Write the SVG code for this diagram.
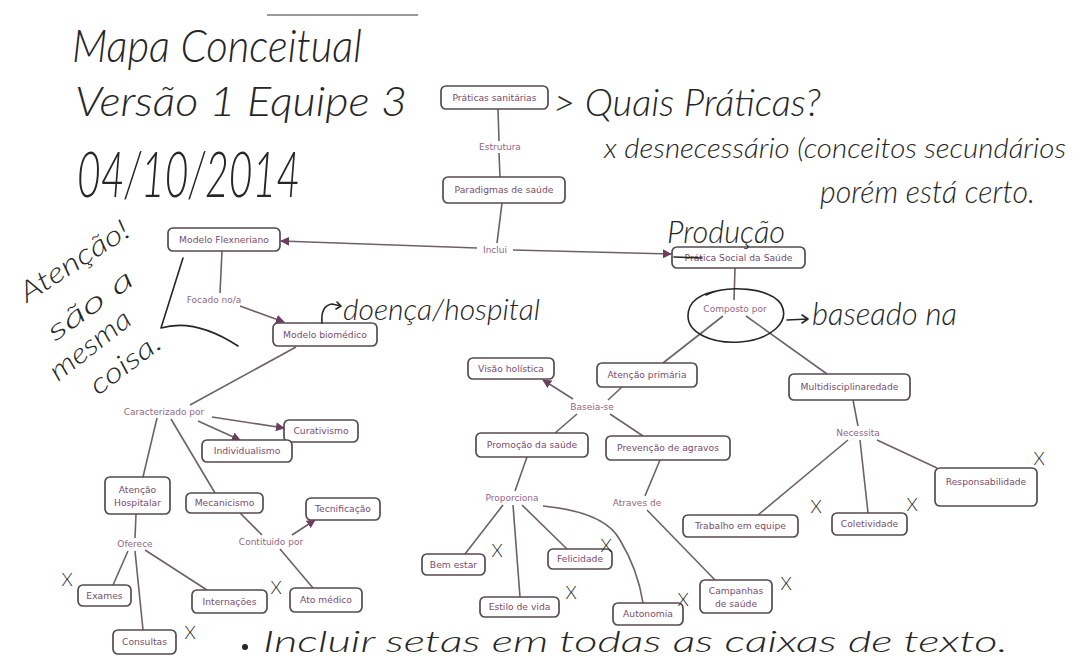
<svg xmlns="http://www.w3.org/2000/svg" width="1091" height="666" viewBox="0 0 1091 666">
<defs>
<style>
.box{fill:#fff;stroke:#564a52;stroke-width:1.7}
.nt{font-family:"DejaVu Sans",Verdana,sans-serif;font-size:9.2px;fill:#7a4c6c;text-anchor:middle}
.lt{font-family:"DejaVu Sans",Verdana,sans-serif;font-size:9px;fill:#946683;text-anchor:middle}
.c{fill:none;stroke:#6f6068;stroke-width:1.6}
.hw{font-family:Lato,"Open Sans",sans-serif;font-weight:300;font-style:italic;fill:#262626}
.hx{font-family:Lato,"Open Sans",sans-serif;font-weight:300;fill:#262626;font-size:18px;text-anchor:middle}
.hs{fill:none;stroke:#262626;stroke-width:1.6;stroke-linecap:round;stroke-linejoin:round}
</style>
<marker id="ah" viewBox="0 0 10 10" refX="9" refY="5" markerWidth="9" markerHeight="9" markerUnits="userSpaceOnUse" orient="auto">
<path d="M0,0 L10,5 L0,10 z" fill="#6b3d5f"/>
</marker>
</defs>
<rect width="1091" height="666" fill="#fff"/>
<line x1="267" y1="15" x2="418" y2="15" stroke="#9a9a9a" stroke-width="2"/>

<g id="connectors">
<path class="c" d="M498,109 L499,141"/>
<path class="c" d="M499,153 L500,177"/>
<path class="c" d="M502,203 L497,243"/>
<path class="c" d="M477,248 L281,241" marker-end="url(#ah)"/>
<path class="c" d="M513,250 L671,254" marker-end="url(#ah)"/>
<path class="c" d="M222,251 L220,293"/>
<path class="c" d="M240,306 L284,322" marker-end="url(#ah)"/>
<path class="c" d="M296,347 L190,405"/>
<path class="c" d="M212,417 L284,428" marker-end="url(#ah)"/>
<path class="c" d="M198,421 L240,440" marker-end="url(#ah)"/>
<path class="c" d="M157,418 L143,477"/>
<path class="c" d="M171,419 L215,493"/>
<path class="c" d="M136,514 L135,538"/>
<path class="c" d="M128,551 L113,585"/>
<path class="c" d="M135,551 L143,630"/>
<path class="c" d="M145,550 L207,590"/>
<path class="c" d="M240,513 L262,535"/>
<path class="c" d="M292,535 L315,520" marker-end="url(#ah)"/>
<path class="c" d="M280,549 L313,588"/>
<path class="c" d="M735,268 L734,300"/>
<path class="c" d="M723,316 L663,363"/>
<path class="c" d="M746,316 L827,374"/>
<path class="c" d="M622,387 L608,400"/>
<path class="c" d="M573,399 L543,380" marker-end="url(#ah)"/>
<path class="c" d="M577,414 L555,433"/>
<path class="c" d="M610,414 L643,436"/>
<path class="c" d="M527,457 L515,491"/>
<path class="c" d="M660,460 L645,496"/>
<path class="c" d="M647,510 L715,580"/>
<path class="c" d="M503,505 L465,554"/>
<path class="c" d="M513,505 L520,597"/>
<path class="c" d="M522,505 L567,549"/>
<path class="c" d="M543,506 Q605,512 620,540 Q638,570 643,603"/>
<path class="c" d="M853,400 L858,426"/>
<path class="c" d="M848,440 L758,515"/>
<path class="c" d="M860,440 L868,513"/>
<path class="c" d="M877,440 L937,468"/>
</g>

<g id="n-praticas"><rect class="box" x="441" y="86" width="107" height="23" rx="5"/><text class="nt" x="494.5" y="100.8">Práticas sanitárias</text></g>
<g id="l-estrutura"><text class="lt" x="500" y="150.3">Estrutura</text></g>
<g id="n-paradigmas"><rect class="box" x="443" y="177" width="122" height="26" rx="5"/><text class="nt" x="504" y="193.3">Paradigmas de saúde</text></g>
<g id="l-inclui"><text class="lt" x="495" y="253.3">Inclui</text></g>
<g id="n-flexneriano"><rect class="box" x="168" y="228" width="112" height="23" rx="5"/><text class="nt" x="224" y="242.8">Modelo Flexneriano</text></g>
<g id="n-pratica-social"><rect class="box" x="672" y="247" width="133" height="21" rx="5"/><text class="nt" x="738.5" y="260.8">Prática Social da Saúde</text></g>
<g id="l-focado"><text class="lt" x="214" y="303.3">Focado no/a</text></g>
<g id="n-biomedico"><rect class="box" x="273" y="323" width="104" height="23" rx="5"/><text class="nt" x="325" y="337.8">Modelo biomédico</text></g>
<g id="l-composto"><text class="lt" x="735" y="312.3">Composto por</text></g>
<g id="n-visao"><rect class="box" x="468" y="358" width="86" height="21" rx="5"/><text class="nt" x="511" y="371.8">Visão holística</text></g>
<g id="n-atencao-primaria"><rect class="box" x="597" y="363" width="100" height="24" rx="5"/><text class="nt" x="647" y="378.3">Atenção primária</text></g>
<g id="n-multi"><rect class="box" x="789" y="374" width="121" height="26" rx="5"/><text class="nt" x="849.5" y="390.3">Multidisciplinaredade</text></g>
<g id="l-baseia"><text class="lt" x="592" y="410.3">Baseia-se</text></g>
<g id="l-caracterizado"><text class="lt" x="164" y="415.3">Caracterizado por</text></g>
<g id="n-curativismo"><rect class="box" x="284" y="420" width="74" height="22" rx="5"/><text class="nt" x="321" y="434.3">Curativismo</text></g>
<g id="n-individualismo"><rect class="box" x="202" y="440" width="90" height="22" rx="5"/><text class="nt" x="247" y="454.3">Individualismo</text></g>
<g id="l-necessita"><text class="lt" x="858" y="436.3">Necessita</text></g>
<g id="n-promocao"><rect class="box" x="476" y="433" width="112" height="24" rx="5"/><text class="nt" x="532" y="448.3">Promoção da saúde</text></g>
<g id="n-prevencao"><rect class="box" x="606" y="436" width="124" height="24" rx="5"/><text class="nt" x="668" y="451.3">Prevenção de agravos</text></g>
<g id="n-responsabilidade"><rect class="box" x="935" y="468" width="102" height="38" rx="5"/><text class="nt" x="986" y="485.3">Responsabilidade</text></g>
<g id="n-atencao-hospitalar"><rect class="box" x="105" y="477" width="65" height="37" rx="5"/><text class="nt" x="137.5" y="493">Atenção</text><text class="nt" x="137.5" y="506">Hospitalar</text></g>
<g id="n-mecanicismo"><rect class="box" x="186" y="493" width="77" height="20" rx="5"/><text class="nt" x="224.5" y="506.3">Mecanicismo</text></g>
<g id="l-proporciona"><text class="lt" x="512" y="501.3">Proporciona</text></g>
<g id="l-atraves"><text class="lt" x="637" y="506.3">Atraves de</text></g>
<g id="n-tecnificacao"><rect class="box" x="306" y="498" width="74" height="22" rx="5"/><text class="nt" x="343" y="512.3">Tecnificação</text></g>
<g id="n-trabalho"><rect class="box" x="683" y="515" width="115" height="22" rx="5"/><text class="nt" x="740.5" y="529.3">Trabalho em equipe</text></g>
<g id="n-coletividade"><rect class="box" x="832" y="513" width="75" height="22" rx="5"/><text class="nt" x="869.5" y="527.3">Coletividade</text></g>
<g id="l-contituido"><text class="lt" x="271" y="545.3">Contituido por</text></g>
<g id="l-oferece"><text class="lt" x="135" y="547.3">Oferece</text></g>
<g id="n-bem-estar"><rect class="box" x="422" y="554" width="63" height="21" rx="5"/><text class="nt" x="453.5" y="567.8">Bem estar</text></g>
<g id="n-felicidade"><rect class="box" x="548" y="549" width="64" height="20" rx="5"/><text class="nt" x="580" y="562.3">Felicidade</text></g>
<g id="n-exames"><rect class="box" x="78" y="585" width="53" height="21" rx="5"/><text class="nt" x="104.5" y="598.8">Exames</text></g>
<g id="n-internacoes"><rect class="box" x="192" y="590" width="75" height="23" rx="5"/><text class="nt" x="229.5" y="604.8">Internações</text></g>
<g id="n-ato-medico"><rect class="box" x="290" y="588" width="72" height="24" rx="5"/><text class="nt" x="326" y="603.3">Ato médico</text></g>
<g id="n-campanhas"><rect class="box" x="700" y="580" width="72" height="33" rx="5"/><text class="nt" x="736" y="594">Campanhas</text><text class="nt" x="736" y="606.5">de saúde</text></g>
<g id="n-estilo"><rect class="box" x="480" y="597" width="79" height="20" rx="5"/><text class="nt" x="519.5" y="610.3">Estilo de vida</text></g>
<g id="n-autonomia"><rect class="box" x="613" y="603" width="70" height="22" rx="5"/><text class="nt" x="648" y="617.3">Autonomia</text></g>
<g id="n-consultas"><rect class="box" x="113" y="630" width="63" height="24" rx="5"/><text class="nt" x="144.5" y="645.3">Consultas</text></g>

<g id="annotations">
<text class="hw" x="72" y="62" font-size="46" textLength="290" lengthAdjust="spacingAndGlyphs">Mapa Conceitual</text>
<text class="hw" x="75" y="116" font-size="42" textLength="332" lengthAdjust="spacingAndGlyphs">Versão 1 Equipe 3</text>
<text class="hw" x="77" y="197" font-size="64" textLength="223" lengthAdjust="spacingAndGlyphs">04/10/2014</text>
<text class="hw" x="553" y="116" font-size="38" textLength="268" lengthAdjust="spacingAndGlyphs">&gt; Quais Práticas?</text>
<text class="hw" x="604" y="158" font-size="27" textLength="462" lengthAdjust="spacingAndGlyphs">x desnecessário (conceitos secundários</text>
<text class="hw" x="820" y="203" font-size="32" textLength="215" lengthAdjust="spacingAndGlyphs">porém está certo.</text>
<text class="hw" x="667" y="243" font-size="32" textLength="118" lengthAdjust="spacingAndGlyphs">Produção</text>
<path class="hs" d="M674,257 L702,258"/>
<path class="hs" d="M706,295 C728,284 770,288 781,304 C791,322 770,340 740,342 C710,344 688,332 688,316 C688,302 700,293 722,290"/>
<path class="hs" d="M787,320 L808,319 M802,315 L808,319 L802,323"/>
<text class="hw" x="812" y="325" font-size="32" textLength="145" lengthAdjust="spacingAndGlyphs">baseado na</text>
<path class="hs" d="M322,323 C321,311 325,305 332,304 L341,306 M337,302 L341,306 L336,309"/>
<text class="hw" x="343" y="320" font-size="30" textLength="197" lengthAdjust="spacingAndGlyphs">doença/hospital</text>
<path class="hs" d="M183,258 L161,328 Q195,318 238,346"/>
<text class="hw" transform="translate(27,303) rotate(-33)" font-size="28" textLength="125" lengthAdjust="spacingAndGlyphs">Atenção!</text>
<text class="hw" transform="translate(55,342) rotate(-36)" font-size="28" textLength="100" lengthAdjust="spacingAndGlyphs">são a</text>
<text class="hw" transform="translate(58,382) rotate(-38)" font-size="28" textLength="96" lengthAdjust="spacingAndGlyphs">mesma</text>
<text class="hw" transform="translate(98,396) rotate(-37)" font-size="28" textLength="82" lengthAdjust="spacingAndGlyphs">coisa.</text>
<circle cx="245" cy="647" r="3" fill="#262626"/>
<text class="hw" x="263" y="652" font-size="30" textLength="745" lengthAdjust="spacingAndGlyphs">Incluir setas em todas as caixas de texto.</text>
<text class="hx" x="67" y="586">X</text>
<text class="hx" x="276" y="594">X</text>
<text class="hx" x="190" y="639">X</text>
<text class="hx" x="497" y="557">X</text>
<text class="hx" x="606" y="552">X</text>
<text class="hx" x="571" y="599">X</text>
<text class="hx" x="683" y="606">X</text>
<text class="hx" x="786" y="590">X</text>
<text class="hx" x="816" y="513">X</text>
<text class="hx" x="912" y="511">X</text>
<text class="hx" x="1039" y="465">X</text>
</g>
</svg>
